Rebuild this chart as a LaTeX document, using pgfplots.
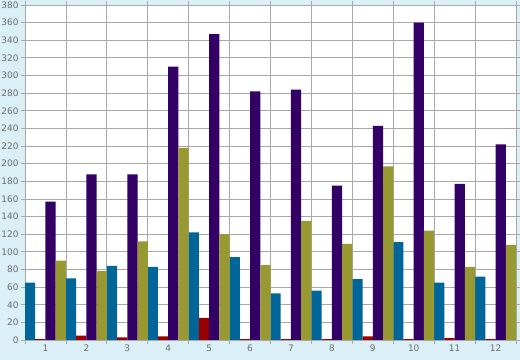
\documentclass[border=0pt]{standalone}
\usepackage{pgfplots}
\pgfplotsset{compat=1.18}
\usepackage{fontspec}
\setmainfont{DejaVu Sans}
\definecolor{bgblue}{HTML}{DAEFF6}
\definecolor{gridgray}{HTML}{A8A8A8}
\definecolor{labgray}{HTML}{6E6E6E}
\definecolor{sTeal}{HTML}{006699}
\definecolor{sRed}{HTML}{990000}
\definecolor{sPurple}{HTML}{330066}
\definecolor{sOlive}{HTML}{999933}
\begin{document}
\begin{tikzpicture}
\path[use as bounding box, fill=bgblue] (-25bp,-20bp) rectangle (495bp,340bp);
\begin{axis}[
  at={(0,0)}, anchor=south west,
  scale only axis, width=491bp, height=335bp,
  xmin=0.5, xmax=12.5, ymin=0, ymax=380,
  axis background/.style={fill=white},
  axis line style={gridgray, line width=0.8pt},
  xtick={0.5,1.5,...,12.5}, xticklabels={},
  extra x ticks={1,2,...,12},
  extra x tick labels={1,2,3,4,5,6,7,8,9,10,11,12},
  extra x tick style={grid=none, major tick length=0pt},
  ytick={0,20,...,380},
  grid=major,
  major grid style={gridgray, line width=0.8pt},
  tick align=outside,
  major tick length=4bp,
  tick style={gridgray, line width=0.8pt},
  tick label style={font=\fontsize{9}{10}\selectfont, text=labgray},
  /pgf/number format/assume math mode=true,
  yticklabel style={xshift=1bp},
  xticklabel style={yshift=-1bp},
  every axis plot/.append style={draw=none},
]
\addplot[ybar, bar width=0.25, bar shift=-0.375, fill=sTeal] coordinates {
(1,65) (2,70) (3,84) (4,83) (5,122) (6,94) (7,53) (8,56) (9,69) (10,111) (11,65) (12,72)};
\addplot[ybar, bar width=0.25, bar shift=-0.125, fill=sRed] coordinates {
(1,1) (2,5) (3,3) (4,4) (5,25) (6,1) (7,1) (8,1) (9,4) (10,1) (11,2) (12,1)};
\addplot[ybar, bar width=0.25, bar shift=0.125, fill=sPurple] coordinates {
(1,157) (2,188) (3,188) (4,310) (5,347) (6,282) (7,284) (8,175) (9,243) (10,360) (11,177) (12,222)};
\addplot[ybar, bar width=0.25, bar shift=0.375, fill=sOlive] coordinates {
(1,90) (2,78) (3,112) (4,218) (5,120) (6,85) (7,135) (8,109) (9,197) (10,124) (11,83) (12,108)};
\end{axis}
\end{tikzpicture}
\end{document}
